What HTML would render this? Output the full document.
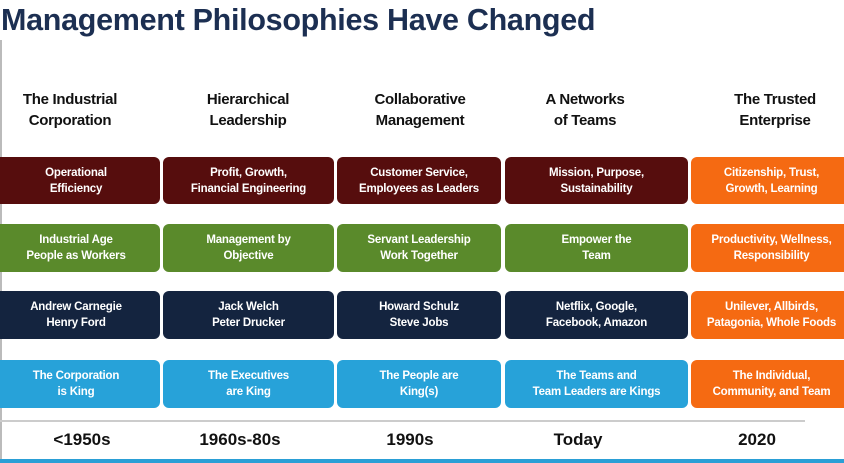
<!DOCTYPE html>
<html><head><meta charset="utf-8"><style>
body{margin:0;width:844px;height:463px;background:#fff;position:relative;overflow:hidden;font-family:"Liberation Sans",sans-serif;}
.t{position:absolute;left:1px;top:3px;font-family:"Liberation Sans",sans-serif;font-weight:bold;font-size:30.5px;color:#1c2f52;letter-spacing:-0.3px;}
.h{position:absolute;top:89px;text-align:center;font-size:15px;line-height:21px;color:#111;width:180px;font-weight:bold;letter-spacing:-0.3px;}
.b{position:absolute;border-radius:6px;color:#fff;font-weight:bold;font-size:11.5px;line-height:16px;text-align:center;display:flex;align-items:center;justify-content:center;letter-spacing:-0.2px;}
.y{position:absolute;top:430px;width:180px;text-align:center;font-size:17px;color:#111;font-weight:bold;}
</style></head><body>
<div style="position:absolute;left:0;top:40px;width:2px;height:420px;background:#bbb"></div>
<div class="t">Management Philosophies Have Changed</div>
<div id="c"></div>
<div style="position:absolute;left:0;top:420px;width:805px;height:2px;background:#ccc"></div>
<div style="position:absolute;left:0;top:459px;width:844px;height:4px;background:#2a9fd6"></div>
<script>
const headers=[["The Industrial","Corporation"],["Hierarchical","Leadership"],["Collaborative","Management"],["A Networks","of Teams"],["The Trusted","Enterprise"]];
const years=["<1950s","1960s-80s","1990s","Today","2020"];
const rows=[
[["Operational","Efficiency"],["Profit, Growth,","Financial Engineering"],["Customer Service,","Employees as Leaders"],["Mission, Purpose,","Sustainability"],["Citizenship, Trust,","Growth, Learning"]],
[["Industrial Age","People as Workers"],["Management by","Objective"],["Servant Leadership","Work Together"],["Empower the","Team"],["Productivity, Wellness,","Responsibility"]],
[["Andrew Carnegie","Henry Ford"],["Jack Welch","Peter Drucker"],["Howard Schulz","Steve Jobs"],["Netflix, Google,","Facebook, Amazon"],["Unilever, Allbirds,","Patagonia, Whole Foods"]],
[["The Corporation","is King"],["The Executives","are King"],["The People are","King(s)"],["The Teams and","Team Leaders are Kings"],["The Individual,","Community, and Team"]]];
const rowColors=["#560d0d","#5a8a2b","#14243f","#27a2d9"];
const orange="#f56a12";
const colX=[[-8,160],[163,334],[337,501],[505,688],[691,852]];
const rowY=[[157,204],[224,272],[291,339],[360,408]];
const headCx=[70,248,420,585,775];
const yearCx=[82,240,410,578,757];
const c=document.getElementById('c');
headers.forEach((h,i)=>{const d=document.createElement('div');d.className='h';d.style.left=(headCx[i]-90)+'px';d.innerHTML=h.join('<br>');


c.appendChild(d);});
rows.forEach((r,ri)=>r.forEach((t,ci)=>{const d=document.createElement('div');d.className='b';
d.style.left=colX[ci][0]+'px';d.style.width=(colX[ci][1]-colX[ci][0])+'px';
d.style.top=rowY[ri][0]+'px';d.style.height=(rowY[ri][1]-rowY[ri][0])+'px';
d.style.background=ci==4?orange:rowColors[ri];
d.innerHTML='<div>'+t.join('<br>')+'</div>';


c.appendChild(d);}));
years.forEach((y,i)=>{const d=document.createElement('div');d.className='y';d.style.left=(yearCx[i]-90)+'px';d.textContent=y;


c.appendChild(d);});
</script>
</body></html>
